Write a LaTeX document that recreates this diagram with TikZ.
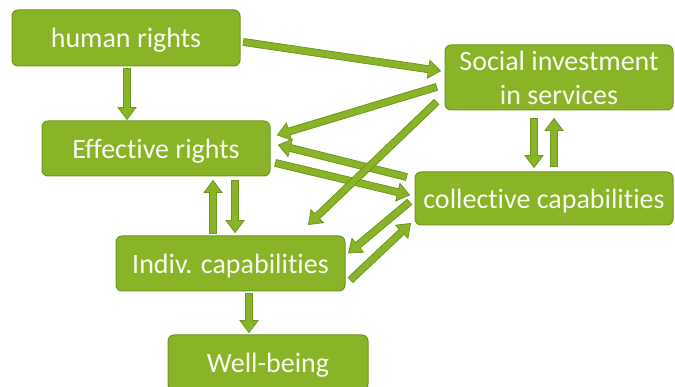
\documentclass[tikz,border=0pt]{standalone}
\usepackage{fontspec}
\setmainfont{Carlito}[Ligatures={NoCommon,NoContextual}, RawFeature={-liga;-clig;-dlig}]
\usetikzlibrary{calc}
\definecolor{boxfill}{RGB}{137,180,40}
\definecolor{boxline}{RGB}{112,150,30}
\definecolor{txt}{RGB}{248,250,240}
\tikzset{
  box/.style={draw=boxline, fill=boxfill, line width=1pt, rounded corners=6pt,
    text=txt, font=\fontsize{28}{34}\selectfont, inner sep=0pt, align=center},
  arr/.style={draw=boxline, fill=boxfill, line width=0.8pt, line join=miter}
}
\newcommand\lowtext[1]{\raisebox{-2.5pt}[\height][\depth]{#1}}
\newcommand\barrow[2]{%
  \coordinate (ba) at #1;
  \coordinate (bb) at #2;
  \coordinate (bh) at ($(bb)!12pt!(ba)$);
  \draw[arr] ($(ba)!3.5pt!90:(bb)$) -- ($(bh)!3.5pt!90:(bb)$) -- ($(bh)!9pt!90:(bb)$)
    -- (bb) -- ($(bh)!9pt!-90:(bb)$) -- ($(bh)!3.5pt!-90:(bb)$)
    -- ($(ba)!3.5pt!-90:(bb)$) -- cycle;}
\begin{document}
\begin{tikzpicture}[x=1pt,y=-1pt]
\useasboundingbox (0,0) rectangle (675,387);
\node[box, minimum width=228pt, minimum height=56pt] (hr) at (126,38) {\lowtext{human rights}};
\node[box, minimum width=228pt, minimum height=55pt] (er) at (156,148.5) {\lowtext{Effective rights}};
\node[box, minimum width=228pt, minimum height=65pt] (si) at (559,77.5) {Social investment\\in services};
\node[box, minimum width=258pt, minimum height=53pt] (cc) at (544,198.5) {\lowtext{collective capabilities}};
\node[box, minimum width=229pt, minimum height=55pt] (ic) at (230.5,263.5) {\lowtext{Indiv. capabilities}};
\node[box, minimum width=200pt, minimum height=55pt] (wb) at (268,362.5) {\lowtext{Well-being}};

\barrow{($(hr.south)+(1,2)$)}{($(er.north)+(-29,-1)$)}
\barrow{($(hr.east)+(3,4)$)}{($(si.west)+(-4,-6.5)$)}
\barrow{($(si.west)+(-8,9.5)$)}{($(er.east)+(7,-13.5)$)}
\barrow{($(cc.west)+(-8,-21.5)$)}{($(er.east)+(8,-3.5)$)}
\barrow{($(er.east)+(5,14.5)$)}{($(cc.west)+(-5,-3.5)$)}
\barrow{($(si.west)+(-8,24.5)$)}{($(ic.north east)+(-37,-11)$)}
\barrow{($(cc.west)+(-5,3.5)$)}{($(ic.east)+(3,-10.5)$)}
\barrow{($(ic.east)+(5,16.5)$)}{($(cc.south west)+(-4,-2)$)}
\barrow{($(ic.north)+(-17.5,-2)$)}{($(er.south)+(57,4)$)}
\barrow{($(er.south)+(79,4)$)}{($(ic.north)+(4.5,-3)$)}
\barrow{($(si.south)+(-25,8)$)}{($(cc.north)+(-10,-4)$)}
\barrow{($(cc.north)+(10,-5)$)}{($(si.south)+(-5,8)$)}
\barrow{($(ic.south)+(18.5,2)$)}{($(wb.north)+(-19,-2)$)}
\end{tikzpicture}
\end{document}
